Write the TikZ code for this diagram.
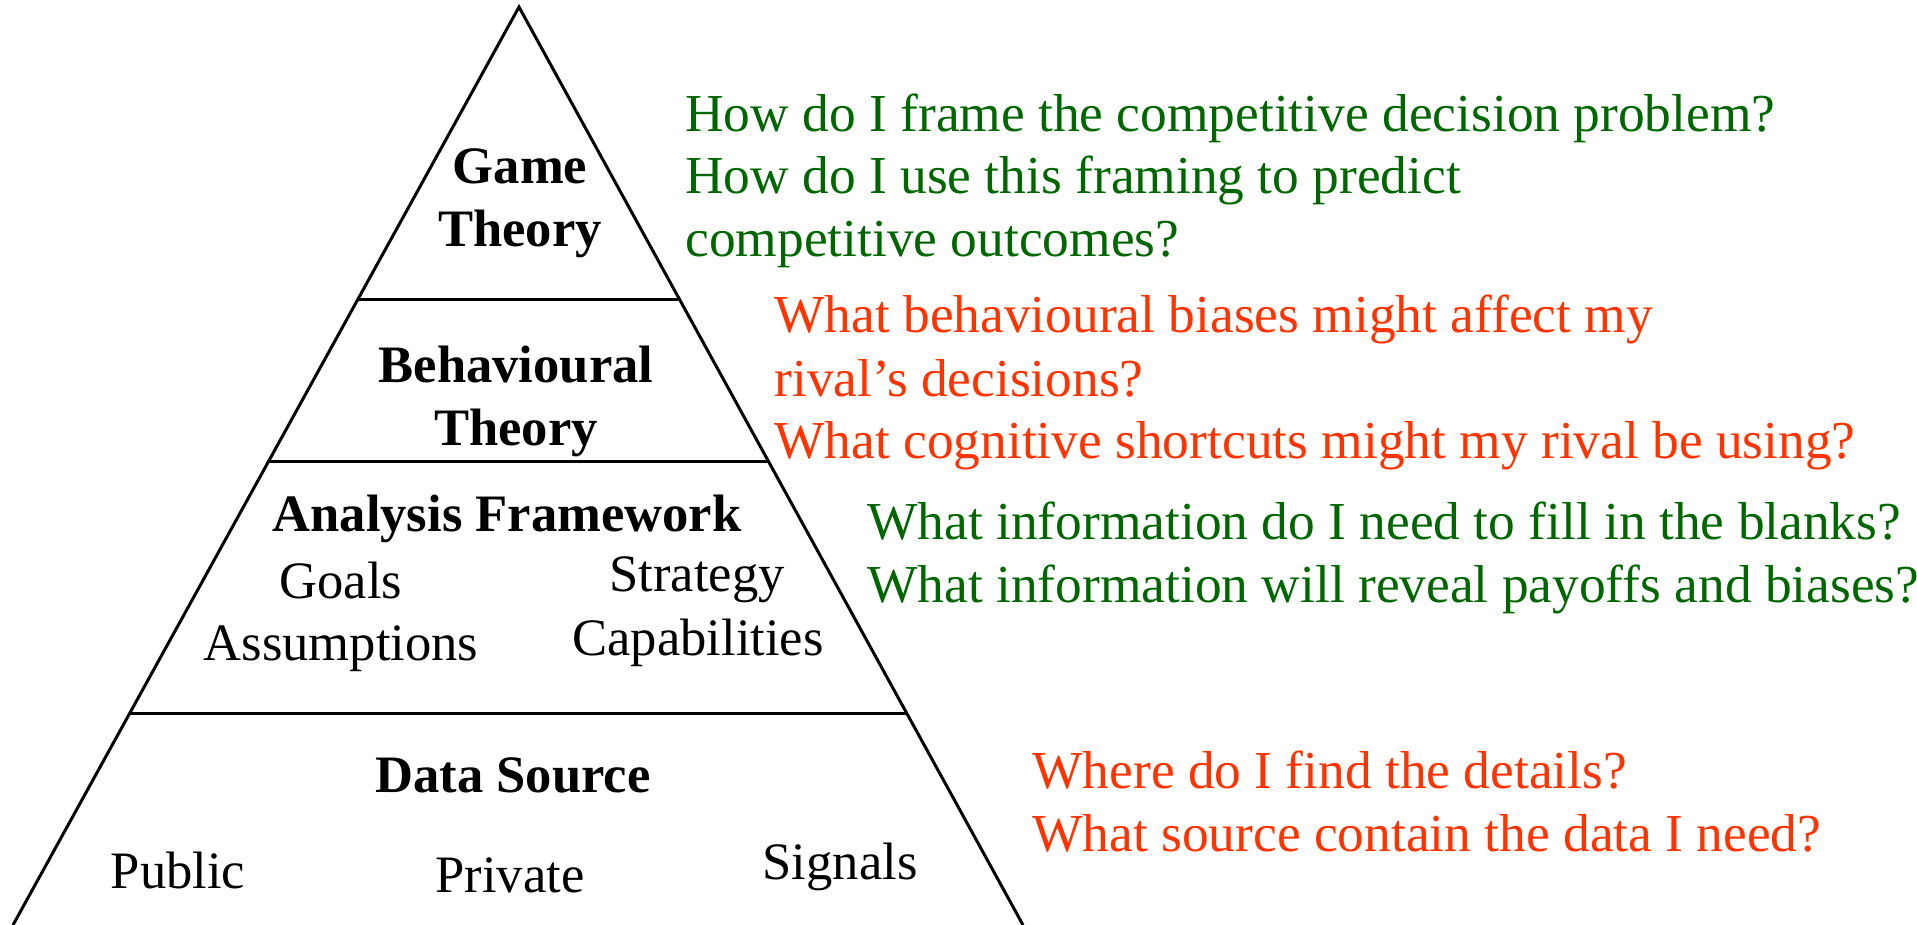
\documentclass[tikz,border=0pt]{standalone}
\usepackage{fontspec}
\setmainfont{Liberation Serif}
\usetikzlibrary{calc}
\definecolor{qgreen}{RGB}{0,102,0}
\definecolor{qred}{RGB}{255,51,0}
\begin{document}
\begin{tikzpicture}[x=0.5pt,y=-0.5pt,
  lbl/.style={inner sep=0pt, anchor=base, font=\fontsize{26.3}{31}\selectfont},
  hd/.style={inner sep=0pt, anchor=base, font=\fontsize{26.3}{31}\selectfont\bfseries},
  qn/.style={inner sep=0pt, anchor=base west, font=\fontsize{26.7}{31}\selectfont},
  edge/.style={line width=1.5pt, line join=miter}]
\useasboundingbox (0,0) rectangle (1917,925);

% pyramid outline
\coordinate (apex) at (519,7);
\coordinate (bl) at (13,925);
\coordinate (br) at (1023,925);
\draw[edge] (bl) -- (apex) -- (br);

% tier separators
\foreach \t [count=\i] in {0.3181,0.4956,0.7691} {
  \coordinate (l\i) at ($(apex)!\t!(bl)$);
  \coordinate (r\i) at ($(apex)!\t!(br)$);
  \draw[edge] (l\i) -- (r\i);
}

% tier labels
\node[hd] (game) at (520,184) {Game};
\node[hd] (gameb) at (520,247) {Theory};
\node[hd] (beh) at (516,382) {Behavioural};
\node[hd] (behb) at (516,445) {Theory};
\node[hd] (frame) at (507,531) {Analysis Framework};
\node[lbl] (goals) at (341,598) {Goals};
\node[lbl] (assum) at (341,660) {Assumptions};
\node[lbl] (strat) at (697,591) {Strategy};
\node[lbl] (capab) at (698,655) {Capabilities};
\node[hd] (data) at (513,792) {Data Source};
\node[lbl] (public) at (178,888) {Public};
\node[lbl] (private) at (510,892) {Private};
\node[lbl] (signals) at (840,879) {Signals};

% questions for each tier
\node[qn, text=qgreen] (qa1) at (685,132) {How do I frame the competitive decision problem?};
\node[qn, text=qgreen] (qa2) at (685,194) {How do I use this framing to predict};
\node[qn, text=qgreen] (qa3) at (685,257) {competitive outcomes?};
\node[qn, text=qred] (qb1) at (774,332) {What behavioural biases might affect my};
\node[qn, text=qred] (qb2) at (774,396) {rival’s decisions?};
\node[qn, text=qred] (qb3) at (774,458) {What cognitive shortcuts might my rival be using?};
\node[qn, text=qgreen] (qc1) at (867,539) {What information do I need to fill in the blanks?};
\node[qn, text=qgreen] (qc2) at (867,602) {What information will reveal payoffs and biases?};
\node[qn, text=qred] (qd1) at (1032,788) {Where do I find the details?};
\node[qn, text=qred] (qd2) at (1032,851) {What source contain the data I need?};
\end{tikzpicture}
\end{document}
